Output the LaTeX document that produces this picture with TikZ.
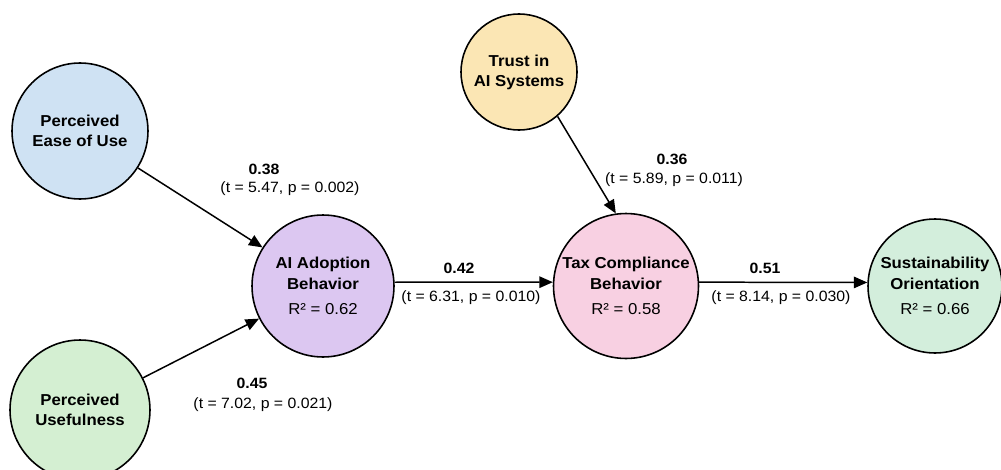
\documentclass[tikz,border=0pt]{standalone}
\usepackage{fontspec}
\setmainfont{Liberation Sans}[FakeStretch=1.06]
\usetikzlibrary{arrows.meta}

\definecolor{easeblue}{HTML}{CFE2F3}
\definecolor{usegreen}{HTML}{D4EFD2}
\definecolor{adoptpurple}{HTML}{DCC7F1}
\definecolor{trustyellow}{HTML}{FBE6B4}
\definecolor{taxpink}{HTML}{F8D0E2}
\definecolor{sustgreen}{HTML}{D3EEDC}

\begin{document}
\begin{tikzpicture}[x=0.02cm,y=-0.02cm,
  construct/.style={draw, circle, line width=0.9pt, align=center, inner sep=0pt,
    font=\fontsize{9}{11.4}\selectfont\bfseries},
  link/.style={-{Triangle[length=2.7mm,width=2.3mm]}, line width=0.85pt},
  coef/.style={font=\fontsize{8.5}{10}\selectfont\bfseries},
  stat/.style={font=\fontsize{8.5}{10}\selectfont}]

\useasboundingbox (0,0) rectangle (1001,470);
\fill [white] (0,0) rectangle (1001,470);
\clip (0,0) rectangle (1001,470);

\node [construct, fill=easeblue, minimum size=2.72cm] (pe) at (80,131) {Perceived\\Ease of Use};
\node [construct, fill=usegreen, minimum size=2.8cm] (pu) at (80,410) {Perceived\\Usefulness};
\node [construct, fill=adoptpurple, minimum size=2.84cm] (ai) at (323,286) {AI Adoption\\Behavior\\[3pt]{\normalfont R² = 0.62}};
\node [construct, fill=trustyellow, minimum size=2.32cm] (ts) at (519,72) {Trust in\\AI Systems};
\node [construct, fill=taxpink, minimum size=2.9cm] (tc) at (626,286) {Tax Compliance\\Behavior\\[3pt]{\normalfont R² = 0.58}};
\node [construct, fill=sustgreen, minimum size=2.68cm] (so) at (935,286) {Sustainability\\Orientation\\[3pt]{\normalfont R² = 0.66}};

\node [coef] (b1) at (264,169) {0.38};
\node [stat] (t1) at (290,189) {(t = 5.47, p = 0.002)};
\node [coef] (b2) at (252,383) {0.45};
\node [stat] (t2) at (263,405) {(t = 7.02, p = 0.021)};
\node [coef] (b3) at (459,268) {0.42};
\node [stat] (t3) at (471,298) {(t = 6.31, p = 0.010)};
\node [coef] (b4) at (672,159) {0.36};
\node [stat] (t4) at (674,180) {(t = 5.89, p = 0.011)};
\node [coef] (b5) at (765,268) {0.51};
\node [stat] (t5) at (781,298) {(t = 8.14, p = 0.030)};

\draw [link] (pe) -- (ai);
\draw [link] (pu) -- (ai);
\draw [link] (ai.3) -- (tc.177);
\draw [link] (ts.-49) -- (tc.98);
\draw [link] (tc.3) -- (so.177);
\end{tikzpicture}
\end{document}
